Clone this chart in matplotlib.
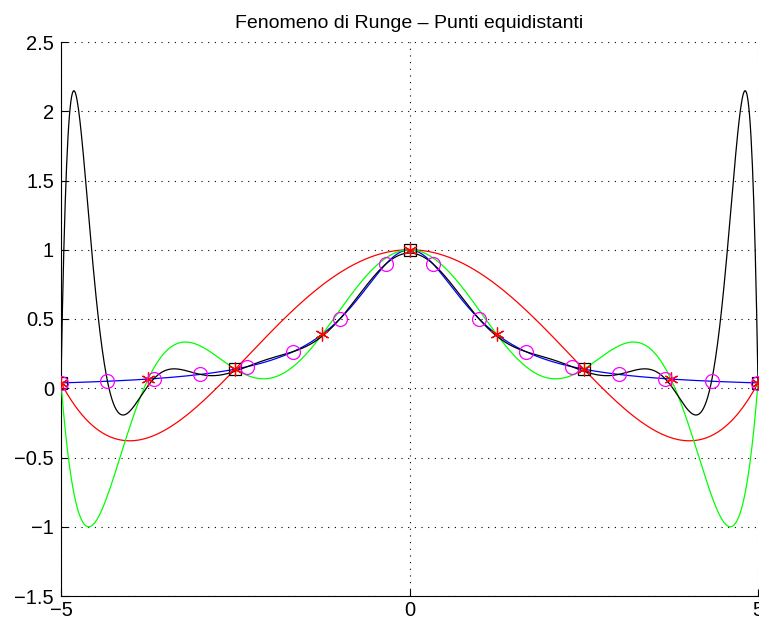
import numpy as np
import matplotlib
matplotlib.use("Agg")
import matplotlib.pyplot as plt
from numpy.polynomial import Polynomial

plt.rcParams['font.family'] = ['Liberation Sans', 'DejaVu Sans']

# Nodes (equispaced) and sampled values
x_sq = [-5.0, -2.5, 0.0, 2.5, 5.0]
y_sq = [0.0385, 0.1379, 1.0, 0.1379, 0.0385]

x_st = [-5.0, -3.75, -2.5, -1.25, 0.0, 1.25, 2.5, 3.75, 5.0]
y_st = [0.0385, 0.0664, 0.1379, 0.3902, 1.0, 0.3902, 0.1379, 0.0664, 0.0385]

x_ci = [-5.0, -4.3333, -3.6667, -3.0, -2.3333, -1.6667, -1.0, -0.3333,
        0.3333, 1.0, 1.6667, 2.3333, 3.0, 3.6667, 4.3333, 5.0]
y_ci = [0.0385, 0.0506, 0.0692, 0.1, 0.1552, 0.2647, 0.5, 0.9,
        0.9, 0.5, 0.2647, 0.1552, 0.1, 0.0692, 0.0506, 0.0385]

title = "Fenomeno di Runge – Punti equidistanti"
xticks = [-5, 0, 5]
yticks = [-1.5, -1, -0.5, 0, 0.5, 1, 1.5, 2, 2.5]

xx = np.linspace(-5, 5, 1001)
runge = lambda t: 1.0 / (1.0 + t ** 2)

p4 = Polynomial.fit(x_sq, y_sq, len(x_sq) - 1)
p8 = Polynomial.fit(x_st, y_st, len(x_st) - 1)
p15 = Polynomial.fit(x_ci, y_ci, len(x_ci) - 1)

fig = plt.figure(figsize=(7.59, 6.21), dpi=100)
ax = fig.add_axes([61/759, 25/621, 697/759, 554/621])

lw = 0.9
ax.plot(xx, runge(xx), color='#0000ff', lw=lw, zorder=2)
ax.plot(xx, p4(xx), color='#ff0000', lw=lw, zorder=3)
ax.plot(xx, p8(xx), color='#00ff00', lw=lw, zorder=3)
ax.plot(xx, p15(xx), color='black', lw=lw, zorder=3)

ax.plot(x_sq, y_sq, ls='none', marker='s', ms=8, mfc='none', mec='black', mew=0.9, zorder=4)
ax.plot(x_st, y_st, ls='none', marker=(6, 2, 0), ms=10, mec='#ff0000', mew=0.9, zorder=5)
ax.plot(x_ci, y_ci, ls='none', marker='o', ms=10, mfc='none', mec='#ff00ff', mew=0.9, zorder=6)

ax.set_xlim(-5, 5)
ax.set_ylim(-1.5, 2.5)
ax.set_xticks(xticks)
ax.set_yticks(yticks)
ax.set_xticklabels([f"{v:g}".replace('-', '\u2212') for v in xticks])
ax.set_yticklabels([f"{v:g}".replace('-', '\u2212') for v in yticks])
ax.grid(True, ls=(0, (1, 5)), color='black', lw=0.8)
ax.spines['top'].set_visible(False)
ax.spines['right'].set_visible(False)
ax.tick_params(direction='in', length=5, labelsize=14.5, pad=3.5)
ax.tick_params(axis='y', pad=5)
ax.set_title(title, fontsize=14, pad=10)

fig.savefig("out.png", dpi=100)
